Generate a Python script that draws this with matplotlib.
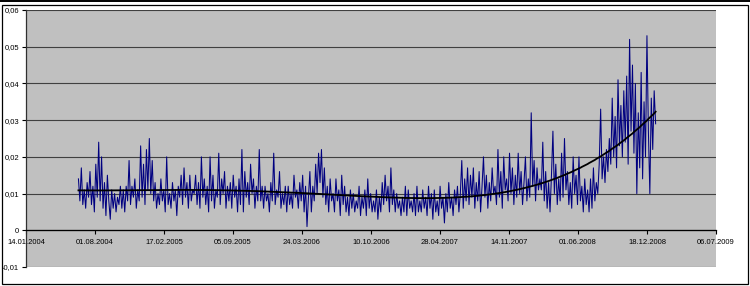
"""
Daily volatility with polynomial trend, Excel-style chart.
"""

import numpy as np
import pandas as pd
import matplotlib
matplotlib.use('Agg')
import matplotlib.pyplot as plt
import matplotlib.dates as mdates
from matplotlib.ticker import FuncFormatter, MultipleLocator
from matplotlib.lines import Line2D
from matplotlib.patches import Rectangle

# series values in thousandths (0.001)
vol_part1 = [14, 8, 17, 7, 11, 6, 13, 9,
             16, 7, 12, 5, 18, 9, 24, 8,
             20, 6, 13, 4, 15, 8, 3, 11,
             6, 10, 5, 9, 7, 12, 6, 11,
             5, 12, 8, 19, 7, 12, 9, 14,
             6, 11, 8, 23, 9, 18, 7, 22,
             11, 25, 10, 19, 8, 13, 6, 10,
             7, 14, 8, 11, 5, 20, 7, 10,
             6, 13, 8, 11, 4, 12, 9, 15,
             7, 17, 9, 13, 6, 15, 8, 11]
vol_part2 = [10, 15, 7, 13, 6, 20, 9, 14,
             7, 12, 5, 20, 8, 15, 6, 11,
             9, 21, 7, 14, 10, 16, 6, 12,
             8, 13, 6, 15, 9, 12, 5, 14,
             7, 22, 5, 16, 9, 13, 7, 18,
             10, 14, 6, 12, 8, 22, 8, 12,
             6, 12, 8, 10, 5, 13, 8, 21,
             7, 11, 9, 16, 6, 10, 7, 12,
             5, 12, 7, 10, 6, 15, 9, 11,
             6, 13, 8, 15, 5, 12, 1, 9]
vol_part3 = [16, 5, 12, 8, 18, 10, 21, 13,
             22, 9, 17, 7, 12, 5, 14, 8,
             10, 5, 14, 8, 11, 4, 15, 7,
             12, 5, 9, 4, 11, 6, 10, 5,
             8, 6, 12, 4, 9, 6, 11, 4,
             14, 6, 10, 5, 8, 5, 11, 3,
             9, 5, 13, 7, 15, 8, 12, 5,
             17, 7, 11, 5, 10, 6, 8, 4,
             9, 5, 12, 4, 11, 6, 8, 5,
             10, 4, 12, 5, 8, 5, 11, 6]
vol_part4 = [9, 4, 12, 6, 10, 3, 11, 5,
             8, 4, 12, 6, 9, 2, 10, 5,
             13, 6, 9, 4, 11, 7, 12, 5,
             10, 19, 6, 14, 8, 17, 7, 15,
             9, 17, 6, 13, 8, 16, 5, 12,
             20, 9, 15, 6, 13, 8, 17, 10,
             12, 7, 22, 9, 16, 6, 20, 11,
             14, 8, 21, 10, 17, 7, 15, 9,
             21, 10, 16, 7, 13, 20, 8, 14,
             9, 32, 12, 19, 8, 17, 11, 14]
vol_part5 = [11, 24, 8, 16, 6, 13, 5, 15,
             27, 10, 18, 7, 14, 8, 21, 9,
             25, 11, 16, 7, 13, 6, 20, 10,
             15, 7, 20, 8, 12, 5, 14, 7,
             11, 5, 14, 6, 17, 8, 13, 10,
             18, 33, 14, 20, 13, 22, 16, 25,
             18, 36, 20, 31, 17, 41, 23, 34,
             20, 38, 24, 42, 18, 52, 27, 45,
             21, 40, 10, 32, 17, 43, 14, 35,
             20, 53, 27, 10, 36, 22, 38, 29]

first_day = '2004-06-14'
last_day = '2009-01-12'
axis_start = '2004-01-14'
axis_end = '2009-07-06'

vol = np.array(vol_part1 + vol_part2 + vol_part3 + vol_part4 + vol_part5) / 1000.0
days = pd.date_range(first_day, last_day, periods=len(vol))

# polynomial trendline like Excel's
t = (days - days[0]).days.values / 1000.0
coef = np.polyfit(t, vol, 4)
trend = np.polyval(coef, t)

fig = plt.figure(figsize=(7.5, 2.86), dpi=100)
plt.rcParams['font.family'] = ['Liberation Sans', 'DejaVu Sans']

ax = fig.add_axes([26 / 750, 19 / 286, 690 / 750, 257 / 286])
ax.set_facecolor('#c0c0c0')

ax.plot(days, vol, color='#000080', lw=0.75, zorder=3)
ax.plot(days, trend, color='black', lw=1.3, zorder=4)

ax.set_ylim(-0.01, 0.06)
ax.set_xlim(pd.Timestamp(axis_start), pd.Timestamp(axis_end))

ax.yaxis.set_major_locator(MultipleLocator(0.01))
ax.yaxis.set_major_formatter(FuncFormatter(
    lambda v, p: '0' if abs(v) < 1e-9 else ('%.2f' % v).replace('.', ',')))
ax.grid(axis='y', color='#404040', lw=0.8, zorder=1)
ax.set_axisbelow(True)

ticks = pd.date_range(axis_start, axis_end, freq='200D')
ax.set_xticks(ticks)
ax.xaxis.set_major_formatter(mdates.DateFormatter('%d.%m.%Y'))

for side in ['top', 'right']:
    ax.spines[side].set_visible(False)
ax.spines['bottom'].set_position(('data', 0))
ax.spines['bottom'].set_color('black')
ax.spines['bottom'].set_linewidth(0.9)
ax.spines['left'].set_color('#303030')
ax.spines['left'].set_linewidth(0.9)

ax.tick_params(axis='both', direction='out', length=3, width=0.8,
               labelsize=5.5, colors='black', pad=2)
ax.tick_params(axis='x', pad=3)

# chart area frame
fig.patches.append(Rectangle((2 / 750, 2 / 286), 746 / 750, 279.5 / 286,
                             transform=fig.transFigure, fill=False,
                             edgecolor='black', lw=0.9))
fig.lines.append(Line2D([0, 1], [1 - 0.7 / 286, 1 - 0.7 / 286],
                        transform=fig.transFigure, color='black', lw=1.4))

fig.savefig('out.png', dpi=100)
